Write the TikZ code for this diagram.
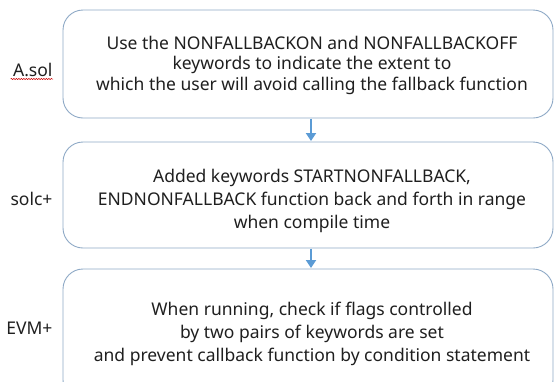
\documentclass[tikz,border=0pt]{standalone}
\usepackage{fontspec}
\setmainfont{Noto Sans}
\usetikzlibrary{arrows.meta,decorations.pathmorphing}
\definecolor{boxline}{HTML}{8EA9C6}
\definecolor{flowblue}{HTML}{5B9BD5}
\tikzset{
  stage/.style={draw=boxline, line width=0.9pt, rounded corners=20pt, fill=white},
  stagetext/.style={align=center, font=\fontsize{17.5}{23}\selectfont, text=black!88},
  tag/.style={anchor=east, font=\fontsize{17.5}{20}\selectfont, text=black!88},
  flow/.style={draw=flowblue, line width=2.8pt, -{Triangle[length=8pt,width=10pt]}},
}
\begin{document}
\begin{tikzpicture}[x=1pt,y=-1pt]
  \useasboundingbox (0,0) rectangle (554,381);
  \begin{scope}
    \clip (0,0) rectangle (554,381);
    % three stage boxes
    \draw[stage] (63,10) rectangle (553,118);
    \draw[stage] (63,142) rectangle (553,248);
    \draw[stage] (63,269) rectangle (553,400);
  \end{scope}
  \coordinate (b1s) at (311,118.5);
  \coordinate (b2n) at (311,141);
  \coordinate (b2s) at (311,248.5);
  \coordinate (b3n) at (311,268);
  \draw[flow] (b1s) -- (b2n);
  \draw[flow] (b2s) -- (b3n);
  % box contents
  \node[stagetext, font=\fontsize{17.5}{20.5}\selectfont] (t1) at (312,65)
    {Use the NONFALLBACKON and NONFALLBACKOFF\\keywords to indicate the extent to\\which the user will avoid calling the fallback function};
  \node[stagetext] (t2) at (312,201)
    {Added keywords STARTNONFALLBACK,\\ENDNONFALLBACK function back and forth in range\\when compile time};
  \node[stagetext] (t3) at (312,334)
    {When running, check if flags controlled\\by two pairs of keywords are set\\and prevent callback function by condition statement};
  % side labels
  \node[tag] (l1) at (56,70) {A.sol};
  \node[tag] (l2) at (56,199) {solc+};
  \node[tag] (l3) at (56,328) {EVM+};
  \draw[red!80!black, line width=0.5pt, decorate,
        decoration={snake, amplitude=0.6pt, segment length=2.5pt}]
    ([xshift=1pt,yshift=-2.5pt]l1.base west) -- ([xshift=-3pt,yshift=-2.5pt]l1.base east);
\end{tikzpicture}
\end{document}
